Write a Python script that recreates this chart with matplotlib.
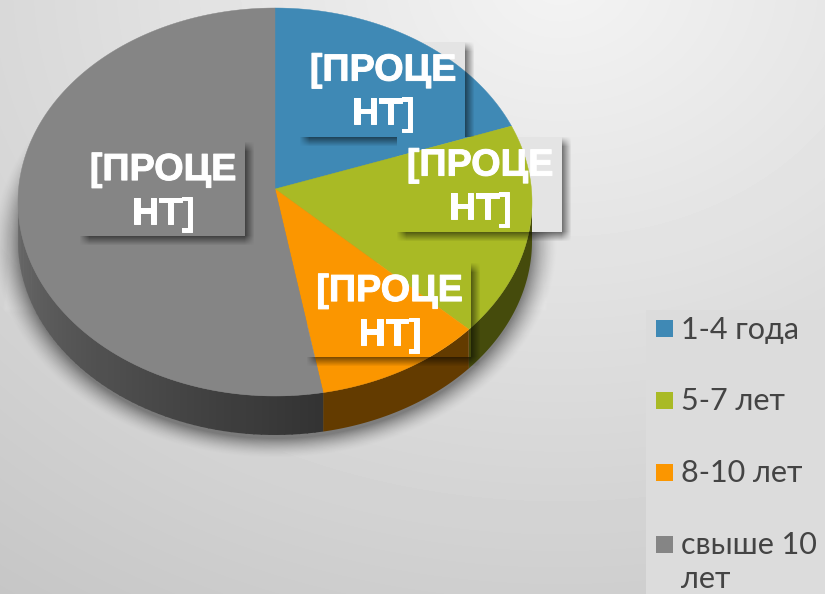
import numpy as np
import matplotlib
matplotlib.use("Agg")
import matplotlib.pyplot as plt
from matplotlib.patches import Polygon, Rectangle
import matplotlib.patheffects as pe

categories = ["1-4 года", "5-7 лет", "8-10 лет", "свыше 10\nлет"]
values = [18.6, 17.8, 10.6, 53.0]
top_colors = ["#3f89b5", "#a9ba25", "#fb9600", "#858585"]
side_colors = ["#1f4560", "#454b0c", "#633b00", "#3c3c3c"]
label_text = "[ПРОЦЕ\nНТ]"
label_boxes = [(300, 42, 165, 95), (397, 137, 165, 95), (307, 263, 164, 94), (80, 142, 165, 94)]

W, H = 825, 594
cx, cy, rx, ry = 275, 202, 257, 194
apex = (275, 189)
depth = 39

fig = plt.figure(figsize=(W / 100, H / 100), dpi=100)
ax = fig.add_axes([0, 0, 1, 1])
ax.set_xlim(0, W)
ax.set_ylim(H, 0)
ax.axis("off")

yy, xx = np.mgrid[0:H, 0:W]
d = np.hypot((xx - 560) / 900, (yy + 20) / 720)
bg = np.clip(0.955 - 0.17 * d, 0, 1)
ax.imshow(bg, cmap="gray", vmin=0, vmax=1, extent=(0, W, H, 0), aspect="auto", zorder=0)

def soft_layer(alpha, rgb=(0, 0, 0), z=1):
    img = np.zeros((H, W, 4))
    img[..., 0], img[..., 1], img[..., 2] = rgb
    img[..., 3] = np.clip(alpha, 0, 1)
    ax.imshow(img, extent=(0, W, H, 0), aspect="auto", zorder=z)

# faint pale reflection behind the pie
band = np.clip((xx - (2 + (310 - yy) * 0.07)) / 3, 0, 1) * np.clip(((548 - (310 - yy) * 0.07) - xx) / 3, 0, 1)
band *= np.clip((yy - 205) / 20, 0, 1) * np.clip((312 - yy) / 4, 0, 1)
soft_layer(band * 0.10, (1, 1, 1), 1)

# soft shadow around the pie's lower rim
r = np.hypot((xx - cx) / (rx + 6), (yy - (cy + depth + 2)) / (ry + 6))
soft_layer(np.clip((1.075 - r) / 0.10, 0, 1) ** 1.6 * 0.42, (0, 0, 0), 1)

def rim(a_deg, dy=0):
    a = np.radians(a_deg)
    return cx + rx * np.sin(a), cy - ry * np.cos(a) + dy

cum = np.concatenate([[0], np.cumsum(values)]) * 3.6

# side wall
def draw_side(i, z, clip=None):
    a0, a1 = max(cum[i], 90), min(cum[i + 1], 270)
    if a1 <= a0:
        return
    if i == 3:
        segs = np.linspace(a0, a1, 60)
        for s0, s1 in zip(segs[:-1], segs[1:]):
            t = (s0 - a0) / (a1 - a0)
            g = 0.20 + 0.22 * t
            th = np.array([s0, s1 + 0.3, s1 + 0.3, s0])
            px, py = rim(th, np.array([0, 0, depth, depth]))
            p = Polygon(np.c_[px, py], fc=(g, g, g), ec="none", zorder=z)
            ax.add_patch(p)
            if clip is not None:
                p.set_clip_path(clip)
    else:
        th = np.linspace(a0, a1, 80)
        tx, ty = rim(th)
        bx, by = rim(th[::-1], depth)
        p = Polygon(np.c_[np.r_[tx, bx], np.r_[ty, by]], fc=side_colors[i], ec="none", zorder=z)
        ax.add_patch(p)
        if clip is not None:
            p.set_clip_path(clip)

def draw_top(i, z, clip=None):
    th = np.linspace(cum[i], cum[i + 1], 200)
    tx, ty = rim(th)
    p = Polygon(np.c_[np.r_[apex[0], tx], np.r_[apex[1], ty]], fc=top_colors[i], ec=top_colors[i], lw=0.3, zorder=z)
    ax.add_patch(p)
    if clip is not None:
        p.set_clip_path(clip)

for i in range(len(values)):
    draw_side(i, 2)
    draw_top(i, 3)

# drop shadows of the data-label boxes
def box_soft(x, y, w, h, off=4, blur=10):
    ox = np.clip((xx - (x + off - blur / 2)) / blur, 0, 1) * np.clip(((x + w + off + blur / 2) - xx) / blur, 0, 1)
    oy = np.clip((yy - (y + off - blur / 2)) / blur, 0, 1) * np.clip(((y + h + off + blur / 2) - yy) / blur, 0, 1)
    return ox * oy

sh = np.zeros((H, W))
for b in label_boxes:
    sh = np.maximum(sh, box_soft(*b))
soft_layer(sh * 0.55, (0, 0, 0), 4)

# boxes repaint the pie over their shadow, so the marks stay bright inside
for (x, y, w, h) in label_boxes:
    clip = Rectangle((x, y), w, h, transform=ax.transData)
    ax.add_patch(Rectangle((x, y), w, h, fc="#e4e4e4", ec="none", zorder=5))
    for i in range(len(values)):
        draw_side(i, 5.1, clip)
        draw_top(i, 5.2, clip)
    ax.text(x + w / 2 + 0.5, y + h / 2 + 3, label_text, color="white", fontsize=27.2, fontweight="bold",
            family="Liberation Sans", ha="center", va="center", linespacing=1.28, zorder=6,
            path_effects=[pe.withStroke(linewidth=0.7, foreground="white")])

# legend
ax.add_patch(Rectangle((646, 310), 179, 284, fc="#dcdcdc", ec="none", zorder=1.5))
legend_y = [328.5, 400.5, 472.5, 544.5]
for yv, c, lab in zip(legend_y, top_colors, categories):
    ax.add_patch(Rectangle((656, yv - 8.5), 17, 17, fc=c, ec="none", zorder=3))
    ax.text(681, yv - 13, lab, color="#444444", fontsize=22, family="Lato", ha="left", va="top",
            linespacing=1.24, zorder=3, clip_on=False)

fig.savefig("out.png", dpi=100)
